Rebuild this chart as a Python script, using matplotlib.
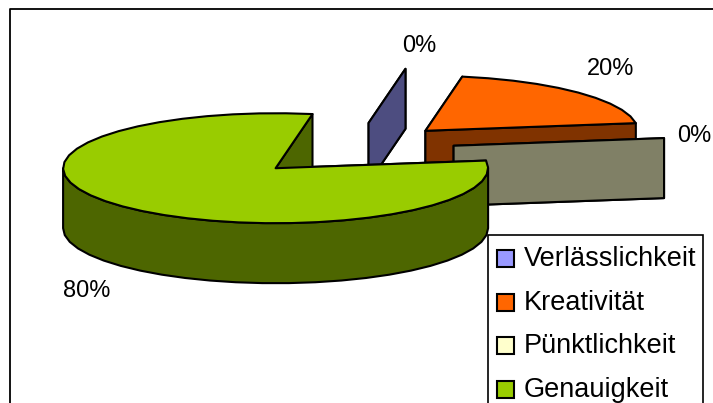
import numpy as np
import matplotlib
matplotlib.use("Agg")
import matplotlib.pyplot as plt
from matplotlib.patches import Polygon, Rectangle

plt.rcParams['font.family'] = ['Liberation Sans', 'DejaVu Sans']

labels = ["Verlässlichkeit", "Kreativität", "Pünktlichkeit", "Genauigkeit"]
values = [0, 20, 0, 80]
top_colors = ["#9999FF", "#FF6600", "#FFFFCC", "#99CC00"]
side_colors = ["#4D4D80", "#803300", "#808066", "#4D6600"]
pct_labels = ["0%", "20%", "0%", "80%"]
pct_pos = [(419, 46), (611, 69), (694, 136), (87, 291)]

# pie geometry, in pixels of the 713x403 canvas
cx, cy = 350.5, 149.5
rx, ry = 212.5, 55.0
depth = 60
explode = 0.49
start_angle = 80.0
edge = dict(edgecolor="black", linewidth=1.5, joinstyle="round")


def rim(center, t0, t1, step=7.2):
    # points of the ellipse going from angle t0 to t1 (degrees)
    n = max(int(abs(t1 - t0) / step), 1) + 1
    t = np.radians(np.linspace(t0, t1, n))
    return np.column_stack([center[0] + rx * np.cos(t), center[1] - ry * np.sin(t)])


fig = plt.figure(figsize=(7.13, 4.03), dpi=100)
ax = fig.add_axes([0, 0, 1, 1])
ax.set_xlim(0, 713)
ax.set_ylim(403, 0)
ax.axis("off")

# chart border, only left and top are on the canvas
ax.plot([10, 10, 713], [403, 9, 9], color="black", lw=1.3, zorder=1)

down = np.array([0, depth])
angle = start_angle
for i, v in enumerate(values):
    sweep = v / sum(values) * 360
    t0, t1 = angle, angle - sweep
    angle = t1
    mid = np.radians((t0 + t1) / 2)
    c = np.array([cx + explode * rx * np.cos(mid), cy - explode * ry * np.sin(mid)])
    z = 2 + i * 2

    # cut walls, an empty slice only shows as one flat wall
    for t in (t0, t1):
        p = rim(c, t, t)[0]
        ax.add_patch(Polygon([c, p, p + down, c + down], facecolor=side_colors[i], zorder=z, **edge))
    if sweep == 0:
        continue

    # outer side, only the lower half of the ellipse faces the viewer
    lo, hi = max(t1, -180.0), min(t0, 0.0)
    if lo < hi:
        r = rim(c, lo, hi)
        ax.add_patch(Polygon(np.vstack([r, (r + down)[::-1]]), facecolor=side_colors[i], zorder=z, **edge))

    # top face
    ax.add_patch(Polygon(np.vstack([c, rim(c, t0, t1)]), facecolor=top_colors[i], zorder=z + 1, **edge))

for txt, (x, y) in zip(pct_labels, pct_pos):
    ax.text(x, y, txt, fontsize=17, ha="center", va="center", color="black", zorder=20)

# legend box runs past the bottom of the canvas
ax.add_patch(Rectangle((488, 235), 215, 190, facecolor="white", edgecolor="black", linewidth=1.2, zorder=15))
legend_y = [258, 302, 345, 389]
for name, col, y in zip(labels, top_colors, legend_y):
    ax.add_patch(Rectangle((497, y - 8.5), 17, 17, facecolor=col, edgecolor="black", linewidth=1.5, zorder=16))
    ax.text(524, y + 1, name, fontsize=19.5, ha="left", va="center", color="black", zorder=16)

fig.savefig("out.png", dpi=100)
